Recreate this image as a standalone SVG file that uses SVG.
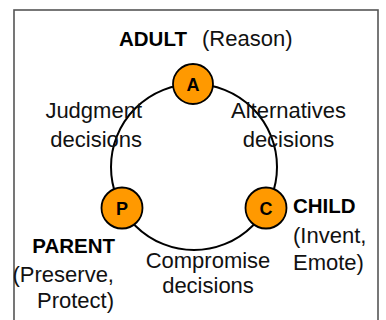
<svg xmlns="http://www.w3.org/2000/svg" width="386" height="320" viewBox="0 0 386 320">
<style>
.t{font-family:"Liberation Sans",Arial,sans-serif;font-size:22px;fill:#111}
.b{font-family:"Liberation Sans",Arial,sans-serif;font-size:20.5px;font-weight:bold;fill:#000}
.n{fill:#FF9900;stroke:#000;stroke-width:1.8}
.l{font-family:"Liberation Sans",Arial,sans-serif;font-size:18px;font-weight:bold;fill:#000;text-anchor:middle}
</style>
<rect x="0" y="0" width="386" height="320" fill="#fff"/>
<rect x="14" y="10" width="364" height="320" fill="none" stroke="#555" stroke-width="1.6"/>
<g id="connectors">
<circle cx="194" cy="167" r="83" fill="none" stroke="#000" stroke-width="2"/>
</g>
<g id="adult">
<circle class="n" cx="193" cy="84" r="20"/>
<text class="l" x="193" y="90.5">A</text>
<text x="119" y="46"><tspan class="b">ADULT</tspan><tspan class="t" x="202">(Reason)</tspan></text>
</g>
<g id="parent">
<circle class="n" cx="122" cy="208" r="20.5"/>
<text class="l" x="122" y="214.5">P</text>
<text class="b" x="115" y="253" text-anchor="end">PARENT</text>
<text class="t" x="114" y="282" text-anchor="end">(Preserve,</text>
<text class="t" x="114" y="308" text-anchor="end">Protect)</text>
</g>
<g id="child">
<circle class="n" cx="266" cy="208" r="20.5"/>
<text class="l" x="266" y="214.5">C</text>
<text class="b" x="293" y="213">CHILD</text>
<text class="t" x="293" y="243">(Invent,</text>
<text class="t" x="293" y="270">Emote)</text>
</g>
<g id="edge-labels">
<text class="t" x="142" y="118" text-anchor="end">Judgment</text>
<text class="t" x="142" y="147" text-anchor="end">decisions</text>
<text class="t" x="288.5" y="118" text-anchor="middle">Alternatives</text>
<text class="t" x="288.5" y="147" text-anchor="middle">decisions</text>
<text class="t" x="208" y="268" text-anchor="middle">Compromise</text>
<text class="t" x="208" y="293" text-anchor="middle">decisions</text>
</g>
</svg>
